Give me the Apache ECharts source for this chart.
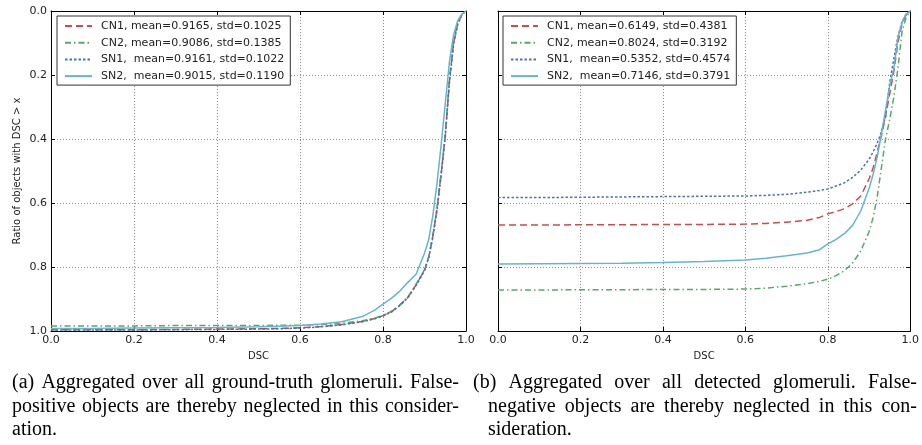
<!DOCTYPE html>
<html>
<head>
<meta charset="utf-8">
<script src="https://cdn.jsdelivr.net/npm/echarts@6/dist/echarts.min.js"></script>
<style>
  html, body { margin: 0; padding: 0; background: #fff; }
  #container { width: 922px; height: 445px; }
</style>
</head>
<body>
<div id="container"></div>
<script>
// x positions (DSC) sampled along each plot
var xLeft = [0, 0.1, 0.2, 0.3, 0.4, 0.5, 0.55, 0.6, 0.65, 0.7, 0.75, 0.78, 0.8, 0.82, 0.84, 0.86, 0.88, 0.9, 0.91, 0.92, 0.93, 0.94, 0.95, 0.96, 0.97, 0.98, 0.99, 1.0];
var cn1Left = [0.996, 0.996, 0.996, 0.995, 0.994, 0.993, 0.992, 0.990, 0.986, 0.980, 0.970, 0.961, 0.952, 0.940, 0.920, 0.895, 0.855, 0.810, 0.770, 0.705, 0.620, 0.510, 0.390, 0.220, 0.100, 0.040, 0.012, 0];
var cn2Left = [0.984, 0.984, 0.984, 0.983, 0.983, 0.983, 0.982, 0.982, 0.980, 0.976, 0.968, 0.960, 0.951, 0.939, 0.919, 0.893, 0.853, 0.808, 0.768, 0.702, 0.618, 0.508, 0.385, 0.215, 0.095, 0.035, 0.010, 0];
var sn1Left = [0.997, 0.997, 0.997, 0.996, 0.995, 0.994, 0.993, 0.991, 0.987, 0.981, 0.971, 0.962, 0.953, 0.941, 0.921, 0.896, 0.857, 0.812, 0.772, 0.708, 0.624, 0.515, 0.395, 0.225, 0.105, 0.042, 0.012, 0];
var sn2Left = [0.992, 0.992, 0.991, 0.990, 0.989, 0.987, 0.985, 0.983, 0.978, 0.971, 0.955, 0.935, 0.916, 0.898, 0.876, 0.848, 0.822, 0.757, 0.715, 0.640, 0.540, 0.420, 0.290, 0.160, 0.075, 0.030, 0.010, 0];

var xRight = [0, 0.1, 0.2, 0.3, 0.4, 0.5, 0.6, 0.65, 0.7, 0.75, 0.78, 0.8, 0.82, 0.84, 0.86, 0.88, 0.9, 0.91, 0.92, 0.93, 0.94, 0.95, 0.96, 0.97, 0.98, 0.99, 1.0];
var cn1Right = [0.669, 0.669, 0.668, 0.668, 0.667, 0.667, 0.666, 0.664, 0.660, 0.654, 0.645, 0.634, 0.627, 0.618, 0.603, 0.578, 0.525, 0.490, 0.440, 0.390, 0.330, 0.260, 0.190, 0.100, 0.040, 0.012, 0];
var cn2Right = [0.872, 0.872, 0.871, 0.871, 0.870, 0.870, 0.869, 0.866, 0.860, 0.852, 0.845, 0.838, 0.827, 0.812, 0.788, 0.750, 0.690, 0.645, 0.580, 0.490, 0.400, 0.340, 0.270, 0.180, 0.065, 0.020, 0];
var sn1Right = [0.583, 0.583, 0.582, 0.581, 0.580, 0.579, 0.578, 0.576, 0.573, 0.566, 0.561, 0.556, 0.547, 0.537, 0.520, 0.497, 0.464, 0.440, 0.413, 0.378, 0.330, 0.225, 0.150, 0.080, 0.035, 0.010, 0];
var sn2Right = [0.791, 0.790, 0.789, 0.788, 0.786, 0.783, 0.778, 0.773, 0.765, 0.756, 0.746, 0.728, 0.714, 0.696, 0.670, 0.625, 0.555, 0.510, 0.455, 0.385, 0.310, 0.235, 0.180, 0.085, 0.035, 0.010, 0];

var leftNames = ['CN1, mean=0.9165, std=0.1025', 'CN2, mean=0.9086, std=0.1385', 'SN1,  mean=0.9161, std=0.1022', 'SN2,  mean=0.9015, std=0.1190'];
var rightNames = ['CN1, mean=0.6149, std=0.4381', 'CN2, mean=0.8024, std=0.3192', 'SN1,  mean=0.5352, std=0.4574', 'SN2,  mean=0.7146, std=0.3791'];

var colors = ['#c44e52', '#55a868', '#4c72b0', '#64b5cd'];
var dashes = [[7, 4], [6, 3, 1.5, 3], [2.5, 2], 'solid'];

var captionLeft = ['(a) Aggregated over all ground-truth glomeruli. False-', 'positive objects are thereby neglected in this consider-', 'ation.'];
var captionRight = ['(b) Aggregated over all detected glomeruli. False-', 'negative objects are thereby neglected in this con-', 'sideration.'];

var dom = document.getElementById('container');
var myChart = echarts.init(dom);

function pairs(xs, ys) {
	var arr = [];
	for (var i = 0; i < xs.length; i++) {
		arr.push([xs[i], ys[i]]);
	}
	return arr;
}

function makeAxis(grid, pos, labels, isX) {
	var ax = {
		type: 'value',
		gridIndex: grid,
		position: pos,
		min: 0,
		max: 1,
		interval: 0.2,
		axisLine: { show: true, onZero: false, lineStyle: { color: '#000', width: 1 } },
		axisTick: { show: true, inside: true, length: 4, lineStyle: { color: '#000', width: 1 } },
		axisLabel: {
			show: labels,
			margin: 4,
			color: '#222',
			fontFamily: 'DejaVu Sans',
			fontSize: 11,
			formatter: function (v) { return v.toFixed(1); }
		},
		splitLine: { show: false }
	};
	if (!isX) ax.inverse = true;
	return ax;
}

var gridLine = { show: true, lineStyle: { color: 'rgba(0,0,0,0.45)', width: 1, type: [1, 2] } };

var xAxes = [];
var yAxes = [];
[0, 1].forEach(function (g) {
	var xb = makeAxis(g, 'bottom', true, true);
	xb.splitLine = gridLine;
	xb.name = 'DSC';
	xb.nameLocation = 'middle';
	xb.nameGap = 20;
	xb.nameTextStyle = { fontFamily: 'DejaVu Sans', fontSize: 10, color: '#222' };
	xAxes.push(xb);
	xAxes.push(makeAxis(g, 'top', false, true));
	var yl = makeAxis(g, 'left', g === 0, false);
	yl.splitLine = gridLine;
	if (g === 0) {
		yl.name = 'Ratio of objects with DSC > x';
		yl.nameLocation = 'middle';
		yl.nameGap = 29;
		yl.nameTextStyle = { fontFamily: 'DejaVu Sans', fontSize: 10, color: '#222' };
	}
	yAxes.push(yl);
	yAxes.push(makeAxis(g, 'right', false, false));
});

function lineSeries(name, xs, ys, idx, axis) {
	return {
		name: name,
		type: 'line',
		xAxisIndex: axis,
		yAxisIndex: axis,
		data: pairs(xs, ys),
		symbol: 'none',
		showSymbol: false,
		animation: false,
		lineStyle: { color: colors[idx], width: 1.5, type: dashes[idx] },
		itemStyle: { color: colors[idx] }
	};
}

var series = [
	lineSeries(leftNames[0], xLeft, cn1Left, 0, 0),
	lineSeries(leftNames[1], xLeft, cn2Left, 1, 0),
	lineSeries(leftNames[2], xLeft, sn1Left, 2, 0),
	lineSeries(leftNames[3], xLeft, sn2Left, 3, 0),
	lineSeries(rightNames[0], xRight, cn1Right, 0, 2),
	lineSeries(rightNames[1], xRight, cn2Right, 1, 2),
	lineSeries(rightNames[2], xRight, sn1Right, 2, 2),
	lineSeries(rightNames[3], xRight, sn2Right, 3, 2)
];

function makeLegend(left, names) {
	return {
		data: names,
		orient: 'vertical',
		left: left,
		top: 16,
		padding: [4, 6, 3, 7],
		itemGap: 4.7,
		itemWidth: 27,
		itemHeight: 12,
		backgroundColor: '#fff',
		borderColor: '#333',
		borderWidth: 1,
		borderRadius: 0,
		selectedMode: false,
		itemStyle: { opacity: 0 },
		textStyle: { fontFamily: 'DejaVu Sans', fontSize: 11, color: '#222', lineHeight: 12, padding: [0, 0, 0, 4] }
	};
}

// caption text, justified lines like the LaTeX page
var capFont = '20px "Liberation Serif"';
var measureCtx = document.createElement('canvas').getContext('2d');
measureCtx.font = capFont;

function captionLine(text, x0, x1, y) {
	var words = text.split(' ');
	var total = 0;
	words.forEach(function (w) { total += measureCtx.measureText(w).width; });
	var gap = (x1 - x0 - total) / (words.length - 1);
	var out = [];
	var cx = x0;
	words.forEach(function (w) {
		out.push({ type: 'text', x: cx, y: y, style: { text: w, fill: '#000', font: capFont, textVerticalAlign: 'middle' } });
		cx += measureCtx.measureText(w).width + gap;
	});
	return out;
}

function plainLine(text, x, y) {
	return [{ type: 'text', x: x, y: y, style: { text: text, fill: '#000', font: capFont, textVerticalAlign: 'middle' } }];
}

var graphics = [];
graphics = graphics.concat(captionLine(captionLeft[0], 12, 459, 383));
graphics = graphics.concat(captionLine(captionLeft[1], 12, 459, 406.5));
graphics = graphics.concat(plainLine(captionLeft[2], 12, 430));
graphics = graphics.concat(captionLine(captionRight[0], 473, 917, 383));
graphics = graphics.concat(captionLine(captionRight[1], 488, 917, 406.5));
graphics = graphics.concat(plainLine(captionRight[2], 488, 430));

var option = {
	backgroundColor: '#fff',
	animation: false,
	grid: [
		{ left: 51, top: 11, width: 415, height: 320 },
		{ left: 498, top: 11, width: 415, height: 320 }
	],
	xAxis: xAxes,
	yAxis: yAxes,
	legend: [makeLegend(57, leftNames), makeLegend(503, rightNames)],
	series: series,
	graphic: graphics
};

myChart.setOption(option, true);
</script>
</body>
</html>
